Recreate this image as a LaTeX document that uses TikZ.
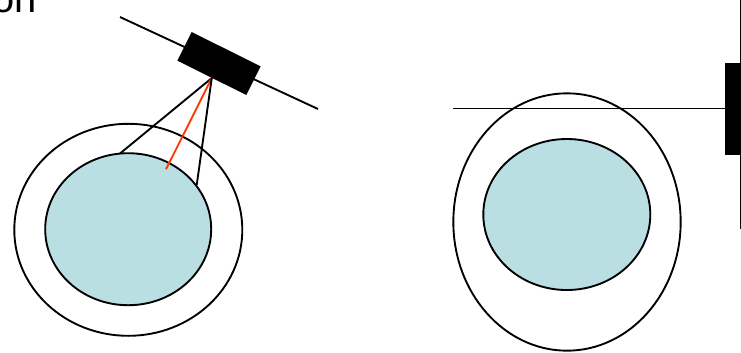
\documentclass[tikz,border=0pt]{standalone}
\usepackage{fontspec}
\setmainfont{Liberation Sans}
\usetikzlibrary{shapes.geometric}
\definecolor{paleblue}{RGB}{186,223,227}
\definecolor{beamred}{RGB}{255,55,0}

\begin{document}
\begin{tikzpicture}[x=0.03cm, y=-0.03cm,
    rim/.style={ellipse, draw, line width=1.6pt, inner sep=0pt},
    core/.style={rim, fill=paleblue},
    probe/.style={rectangle, fill=black, inner sep=0pt},
    axis/.style={line width=1.6pt},
    ray/.style={line width=1.6pt}
]
\useasboundingbox (0,0) rectangle (741,352);
\node[font=\fontsize{34}{40}\selectfont, anchor=base east, inner sep=0pt] (title) at (37,12) {on};

% left: tilted probe above the body
\node[rim, minimum width=6.84cm, minimum height=6.36cm] (outerL) at (128.3,229.8) {};
\node[core, minimum width=4.98cm, minimum height=4.56cm] (innerL) at (128.2,229.2) {};
\coordinate (axL1) at (120,17);
\coordinate (axL2) at (318,109);
\draw[axis] (axL1) -- (axL2);
\node[probe, minimum width=2.31cm, minimum height=0.96cm, rotate=-26.5] (probeL) at (219,63.5) {};
\coordinate (hitA) at (120,153.5);
\coordinate (hitB) at (166,169.3);
\coordinate (hitC) at (196.7,185);
\draw[ray] (probeL.south) -- (hitA);
\draw[ray, beamred] (probeL.south) -- (hitB);
\draw[ray] (probeL.south) -- (hitC);

% right: probe at the side
\node[rim, minimum width=6.82cm, minimum height=7.72cm] (outerR) at (567,222) {};
\node[core, minimum width=5.01cm, minimum height=4.53cm] (innerR) at (566.8,214.5) {};
\coordinate (axR1) at (741,-13);
\coordinate (axR2) at (741,229);
\draw[axis] (axR1) -- (axR2);
\node[probe, minimum width=0.96cm, minimum height=2.76cm] (probeR) at (741,108.5) {};
\coordinate (axR3) at (453,108.5);
\draw[axis] (axR3) -- (probeR.west);
\end{tikzpicture}
\end{document}
